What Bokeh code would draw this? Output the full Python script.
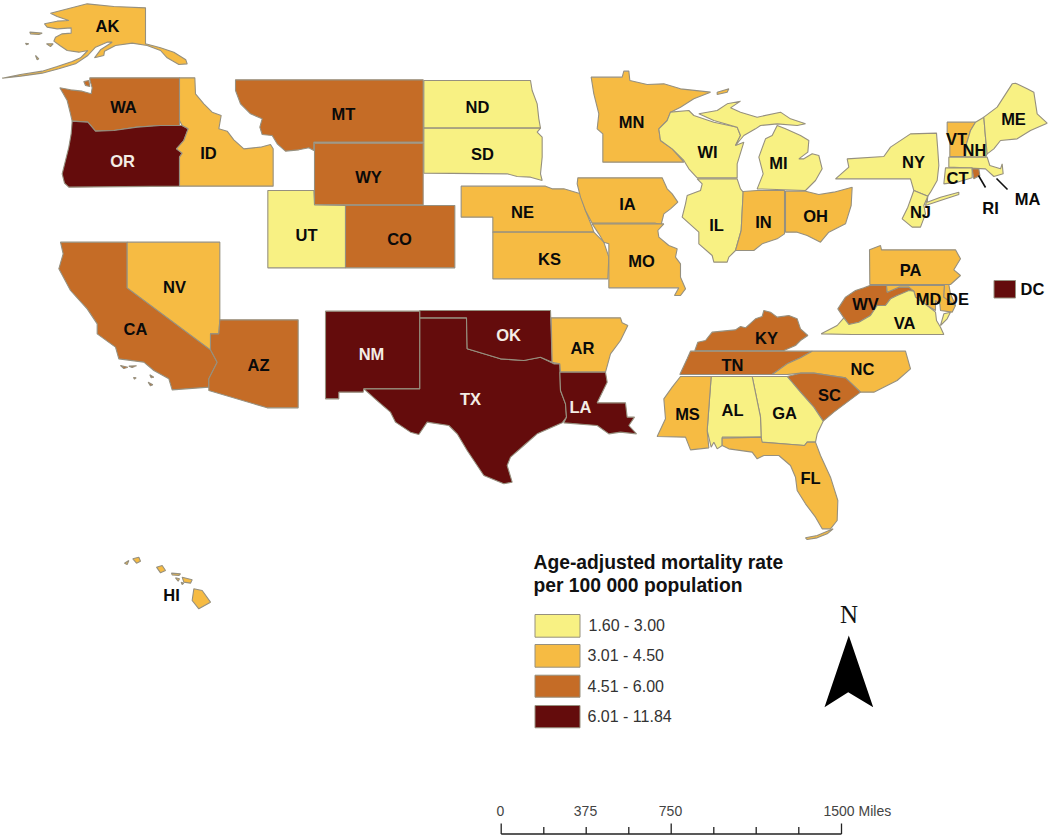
from bokeh.plotting import figure
from bokeh.models import Range1d, ColumnDataSource
from bokeh.core.properties import value
from bokeh.embed import file_html
from bokeh.resources import INLINE

W, H = 1050, 836
COLORS = ["#F8F183", "#F6BB43", "#C56C26", "#640C0C"]
BORDER = "#96907F"
FONT = "Liberation Sans"

LEGEND_TITLE = ["Age-adjusted mortality rate", "per 100 000 population"]
LEGEND_LABELS = ["1.60 - 3.00", "3.01 - 4.50", "4.51 - 6.00", "6.01 - 11.84"]
SCALE_VALUES = ["0", "375", "750", "1500 Miles"]

# Rate class of every state (index into COLORS)
CLASS_1 = ["ND", "SD", "UT", "WI", "MI", "IL", "NY", "NJ", "ME", "NH", "MA", "CT", "VA", "AL", "GA"]
CLASS_2 = ["AK", "ID", "NV", "NE", "KS", "MN", "IA", "MO", "AR", "IN", "OH", "VT", "PA", "MD", "DE", "NC", "MS", "FL", "HI"]
CLASS_3 = ["WA", "MT", "WY", "CO", "CA", "AZ", "KY", "TN", "WV", "SC", "RI"]
CLASS_4 = ["OR", "NM", "OK", "TX", "LA"]

# Outlines. Each part: (crop x, crop y, [points at 3x crop scale])
A = (0, 0); B = (230, 60); C = (570, 60); D = (830, 50); E = (780, 230)
F = (640, 300); G = (40, 230); J = (310, 290); K = (110, 540); M = (570, 210)

SHAPES = {
 "AK": [(A, [(435,22),(340,18),(260,10),(205,24),(150,38),(170,48),(205,60),(170,62),(132,70),(140,80),(170,85),(212,82),(212,98),(185,100),(165,110),(160,122),(178,135),(200,150),(235,155),(262,150),(240,172),(215,183),(170,198),(125,212),(60,222),(5,233),(60,227),(125,218),(175,205),(225,190),(262,165),(285,140),(320,125),(335,125),(300,148),(282,172),(310,165),(312,152),(345,135),(395,128),(440,135),(480,150),(500,172),(535,192),(560,190),(556,178),(520,155),(480,142),(435,130)]),
        (A, [(88,95),(125,98),(115,102),(90,100)]), (A, [(138,130),(158,130),(150,138)]),
        (A, [(75,128),(85,130),(78,133)]), (A, [(105,165),(115,175),(110,178)])],
 "WA": [(A, [(268,232),(537,232),(537,375),(480,375),(410,380),(340,390),(285,392),(262,365),(215,362),(210,340),(200,300),(178,262),(210,268),(245,272),(272,280),(275,262),(268,238)]),
        (A, [(250,243),(265,240),(268,258),(255,255)])],
 "OR": [(A, [(215,362),(262,365),(285,392),(340,390),(410,380),(480,375),(545,375),(563,385),(550,420),(528,445),(545,458),(537,470),(537,557),(205,560),(192,548),(185,520),(205,440),(212,400)])],
 "ID": [(A, [(537,232),(583,232),(585,280),(610,310),(635,335),(662,345),(655,385),(680,392),(700,418),(730,445),(780,440),(810,432),(818,445),(818,557),(537,557),(537,470),(545,458),(528,445),(550,420),(563,385),(545,375),(537,360)])],
 "MT": [(B, [(15,58),(578,58),(578,245),(250,245),(250,270),(235,262),(205,268),(165,272),(140,250),(125,225),(95,222),(88,200),(95,175),(60,160),(30,130),(15,90)])],
 "WY": [(B, [(252,248),(578,248),(578,433),(252,433)])],
 "UT": [(B, [(112,390),(250,390),(252,433),(345,435),(345,622),(112,622)])],
 "CO": [(B, [(345,435),(673,435),(673,622),(345,622)])],
 "ND": [(B, [(580,60),(900,60),(905,90),(920,130),(925,175),(930,203),(580,203)])],
 "SD": [(B, [(580,203),(930,203),(920,215),(935,230),(935,290),(930,340),(935,360),(900,350),(860,348),(830,340),(580,338)])],
 "NE": [(B, [(692,377),(945,377),(965,385),(1000,385),(1035,395),(1050,400),(1065,450),(1085,500),(1090,515),(787,515),(787,470),(692,470)])],
 "KS": [(B, [(787,515),(1090,515),(1120,545),(1135,590),(1132,655),(787,655)])],
 "IA": [(C, [(22,352),(275,352),(290,385),(305,400),(322,425),(300,445),(280,460),(272,492),(255,488),(65,488),(45,450),(30,410),(20,370)])],
 "MO": [(M, [(65,40),(255,40),(280,40),(262,60),(265,80),(295,105),(320,115),(315,140),(330,160),(330,200),(345,235),(330,255),(312,255),(325,232),(115,232),(115,100),(100,95),(85,70)])],
 "MN": [(C, [(62,50),(155,50),(160,32),(175,32),(178,60),(230,72),(280,70),(330,85),(420,95),(370,115),(330,140),(300,155),(290,180),(265,205),(270,240),(305,265),(340,305),(97,305),(97,220),(80,205),(85,160),(70,100)]),
        (C, [(440,95),(475,85),(470,95),(440,102)])],
 "WI": [(C, [(265,205),(290,180),(300,155),(355,150),(370,165),(430,185),(500,200),(510,225),(495,255),(520,245),(500,310),(500,352),(380,352),(355,325),(340,300),(305,265),(270,240)])],
 "MI": [(C, [(385,160),(440,150),(470,130),(510,122),(480,142),(510,155),(560,170),(630,155),(660,175),(705,190),(680,195),(620,190),(570,195),(555,205),(520,225),(495,255),(510,225),(500,200),(430,180)]),
        (C, [(620,195),(645,205),(690,225),(715,240),(712,275),(685,295),(700,295),(725,280),(745,285),(755,325),(735,360),(705,390),(560,385),(578,340),(565,290),(585,235),(605,225)])],
 "IL": [(C, [(380,355),(500,355),(510,385),(518,395),(512,510),(495,570),(475,590),(470,605),(430,605),(425,585),(385,550),(385,515),(335,470),(345,430),(350,405),(390,390),(395,370)])],
 "IN": [(C, [(518,393),(560,390),(642,390),(642,520),(620,535),(575,550),(550,570),(495,570),(512,510)])],
 "OH": [(C, [(645,392),(705,392),(745,402),(790,395),(845,380),(842,435),(825,490),(775,515),(750,545),(710,525),(680,515),(645,515)])],
 "NY": [(D, [(15,385),(55,350),(50,325),(160,318),(180,290),(240,250),(318,248),(322,300),(325,345),(320,390),(300,425),(292,437),(290,455),(330,440),(385,425),(385,432),(330,450),(285,465),(292,437),(250,420),(240,385)])],
 "NJ": [(D, [(250,420),(292,437),(280,465),(285,490),(270,530),(245,530),(215,505),(232,470)])],
 "VT": [(D, [(350,215),(435,215),(420,240),(408,280),(405,318),(358,318),(358,275),(350,250)])],
 "NH": [(D, [(435,215),(460,200),(465,260),(470,310),(465,320),(405,320),(408,280),(420,240)])],
 "ME": [(D, [(460,200),(500,170),(545,100),(555,98),(590,115),(610,125),(620,190),(650,218),(600,240),(560,265),(510,270),(490,295),(470,310),(465,260)])],
 "MA": [(D, [(355,320),(470,320),(478,345),(510,355),(515,340),(518,370),(490,378),(465,355),(355,350)])],
 "CT": [(D, [(345,352),(425,352),(425,382),(380,395),(340,400)])],
 "RI": [(D, [(425,355),(445,355),(448,375),(430,385)])],
 "PA": [(E, [(267,58),(300,45),(303,58),(525,58),(540,85),(520,118),(540,135),(510,162),(268,162)])],
 "WV": [(E, [(268,165),(318,165),(320,185),(355,170),(385,170),(400,182),(350,195),(330,205),(315,225),(290,225),(270,255),(235,275),(205,282),(190,262),(172,235),(195,200),(225,180),(250,172)])],
 "MD": [(E, [(318,165),(492,165),(490,200),(525,225),(515,245),(480,240),(478,220),(465,210),(465,240),(440,225),(405,200),(400,182),(385,170),(355,170),(320,185)])],
 "DE": [(E, [(492,162),(505,162),(510,190),(525,225),(490,200)])],
 "VA": [(E, [(122,310),(170,285),(190,262),(205,282),(235,275),(270,255),(290,225),(315,225),(330,205),(350,195),(385,180),(400,182),(405,200),(440,225),(465,245),(468,270),(480,290),(490,312),(215,312)]),
        (E, [(510,245),(490,250),(480,285),(500,265)])],
 "KY": [(F, [(163,150),(172,125),(195,120),(215,95),(285,88),(300,78),(315,82),(345,55),(365,48),(370,30),(390,35),(410,50),(445,45),(470,55),(480,85),(502,105),(480,120),(465,135),(430,150)])],
 "TN": [(F, [(150,152),(515,152),(480,172),(440,190),(395,222),(118,222),(140,175)])],
 "NC": [(F, [(515,152),(795,152),(810,205),(770,240),(700,275),(660,275),(615,232),(520,218),(480,218),(440,222),(395,222),(440,190),(480,172)])],
 "SC": [(F, [(440,228),(480,218),(520,218),(615,232),(660,275),(620,305),(580,335),(548,362),(520,320),(480,275)])],
 "GA": [(F, [(335,228),(440,228),(480,275),(520,320),(548,362),(530,400),(525,425),(500,425),(492,435),(362,425),(360,350)])],
 "AL": [(F, [(212,228),(335,228),(360,350),(362,410),(245,410),(245,435),(230,445),(220,425),(212,440),(200,390)])],
 "MS": [(F, [(120,228),(212,228),(200,390),(205,442),(150,448),(135,410),(50,408),(75,355),(70,295),(95,260)])],
 "FL": [(F, [(245,413),(362,410),(365,425),(492,435),(500,425),(525,425),(540,465),(570,530),(592,600),(590,660),(570,685),(545,685),(525,650),(495,610),(470,570),(465,530),(450,495),(415,465),(370,465),(350,475),(335,455),(265,445),(245,435)]),
        (F, [(495,712),(530,705),(578,685),(560,700),(530,712),(500,717)])],
 "CA": [(G, [(60,35),(260,35),(260,172),(510,358),(530,395),(505,445),(505,470),(395,478),(385,445),(340,420),(310,395),(235,385),(225,350),(170,310),(170,280),(140,235),(90,180),(55,115),(68,70)]),
        (G, [(240,405),(262,410),(250,414)]), (G, [(265,407),(288,406),(275,411)]), (G, [(328,433),(340,440),(332,442)]), (G, [(323,455),(337,463),(330,466)]), (G, [(279,441),(287,442),(282,446)])],
 "NV": [(G, [(260,35),(538,35),(538,268),(535,310),(510,310),(510,358),(260,172)])],
 "AZ": [(G, [(538,268),(773,268),(773,532),(680,532),(505,480),(505,445),(530,395),(510,358),(510,310),(535,310)])],
 "NM": [(J, [(45,62),(328,62),(328,295),(160,295),(158,305),(85,305),(85,325),(45,325)])],
 "TX": [(J, [(328,82),(468,82),(470,175),(520,190),(570,205),(640,210),(690,200),(730,220),(748,220),(750,300),(765,340),(768,380),(755,397),(680,430),(640,465),(600,500),(590,525),(605,575),(580,580),(520,555),(490,510),(470,480),(440,430),(415,405),(350,395),(325,432),(300,425),(255,395),(240,365),(205,335),(160,295),(328,295)])],
 "OK": [(J, [(328,60),(720,60),(725,215),(690,200),(640,210),(570,205),(520,190),(470,175),(468,82),(328,82)])],
 "AR": [(J, [(722,82),(930,82),(935,97),(952,105),(930,150),(900,190),(885,245),(750,245),(748,220),(725,215)])],
 "LA": [(J, [(748,245),(885,245),(890,275),(860,337),(945,337),(950,380),(972,380),(955,405),(978,430),(930,425),(895,430),(860,405),(760,397),(768,380),(765,340),(750,300)])],
 "HI": [(K, [(250,145),(275,150),(300,185),(265,205),(245,180)]), (K, [(215,110),(245,118),(240,128),(220,125)]),
        (K, [(183,98),(210,100),(205,105),(185,103)]), (K, [(195,112),(207,115),(203,122)]),
        (K, [(138,80),(155,75),(165,90),(150,97)]), (K, [(67,55),(85,50),(90,62),(78,68)]),
        (K, [(42,68),(55,60),(50,72)]), (K, [(212,125),(220,128),(215,132)])],
}

STATE_LABELS = ["AK","WA","OR","ID","MT","ND","SD","WY","UT","CO","NE","KS","MN","WI","MI","IA","IL","IN","OH","MO","NY","ME","VT","NH","CT","RI","MA","NJ","PA","WV","MD","DE","VA","DC","NC","KY","TN","SC","GA","AL","MS","FL","CA","NV","AZ","NM","OK","TX","AR","LA","HI"]
LABEL_X = [107,123,122,208,343,477,482,368,306,399,522,549,631,707,778,627,716,763,815,641,913,1013,956,974,957,990,1027,920,910,865,928,957,904,1032,862,766,732,829,784,732,687,810,135,174,258,371,508,470,582,580,171]
LABEL_Y = [25,106,160,152,113,106,153,176,234,238,211,258,121,151,162,203,224,221,215,260,161,118,138,149,177,207,198,211,269,303,298,298,322,288,368,337,364,394,412,409,413,477,328,286,364,353,334,398,347,406,594]
WHITE_LABELS = ["OR", "NM", "OK", "TX", "LA"]


def to_page(part):
    (ox, oy), pts = part
    return [ox + x / 3 for x, _ in pts], [oy + y / 3 for _, y in pts]


p = figure(width=W, height=H, x_range=Range1d(0, W), y_range=Range1d(H, 0),
           output_backend="svg", toolbar_location=None, x_axis_type=None, y_axis_type=None,
           min_border=0, outline_line_color=None)
p.grid.visible = False
p.background_fill_color = "white"
p.border_fill_color = "white"

classes = {}
for i, group in enumerate([CLASS_1, CLASS_2, CLASS_3, CLASS_4]):
    for s in group:
        classes[s] = i

xs, ys, fills = [], [], []
for state, parts in SHAPES.items():
    for part in parts:
        x, y = to_page(part)
        xs.append(x); ys.append(y); fills.append(COLORS[classes[state]])
p.patches("xs", "ys", source=ColumnDataSource(dict(xs=xs, ys=ys, fill=fills)),
          fill_color="fill", line_color=BORDER, line_width=1.1)

# pointers to RI and MA
for x0, y0, x1, y1 in [(978, 175, 985, 187), (996, 178, 1007, 189)]:
    p.line([x0, x1], [y0, y1], line_color="#111111", line_width=1.6)

# DC inset box
p.quad(left=[993.5], right=[1015], top=[280], bottom=[297.5], fill_color=COLORS[3], line_color=BORDER, line_width=1)

# state labels
p.text(x=LABEL_X, y=LABEL_Y, text=STATE_LABELS,
       text_color=["#F4EDE6" if s in WHITE_LABELS else "#0A0A0A" for s in STATE_LABELS],
       text_font=value(FONT), text_font_style="bold", text_font_size="16.5px",
       text_align="center", text_baseline="middle")

# legend
p.text(x=[533, 533], y=[562, 585], text=LEGEND_TITLE, text_font=value(FONT), text_font_style="bold",
       text_font_size="19.3px", text_color="#111111", text_baseline="middle")
row_top = [614, 644, 674.7, 705]
row_bot = [636.7, 666.7, 696.7, 727.3]
p.quad(left=[534.5] * 4, right=[579.5] * 4, top=row_top, bottom=row_bot, fill_color=COLORS,
       line_color=BORDER, line_width=1)
p.text(x=[588, 587, 587, 587], y=[625, 655, 685.5, 716], text=LEGEND_LABELS, text_font=value(FONT),
       text_font_size="16px", text_color="#333333", text_baseline="middle")

# north arrow
p.patch([848.3, 872.7, 847.7, 824], [635, 706.7, 691.7, 706.7], fill_color="#000000", line_color=None)
p.text(x=[848.5], y=[614], text=["N"], text_font=value("Liberation Serif"), text_font_size="25px",
       text_color="#111111", text_align="center", text_baseline="middle")

# scale bar
p.text(x=[500, 585, 670, 823], y=[810] * 4, text=SCALE_VALUES, text_font=value(FONT), text_font_size="14px",
       text_color="#444444", text_align=["center", "center", "center", "left"], text_baseline="middle")
tick_x = [500.7, 543.3, 585.7, 628.3, 670.7, 713.3, 755.7, 798.3, 841]
tick_top = [823, 826.5, 826.5, 826.5, 823, 826.5, 826.5, 826.5, 823]
p.segment(x0=tick_x, x1=tick_x, y0=tick_top, y1=[833.5] * 9, line_color="#222222", line_width=1.3)
p.line([500.7, 841], [833.5, 833.5], line_color="#222222", line_width=1.5)

open("out.html", "w").write(file_html(p, INLINE))
